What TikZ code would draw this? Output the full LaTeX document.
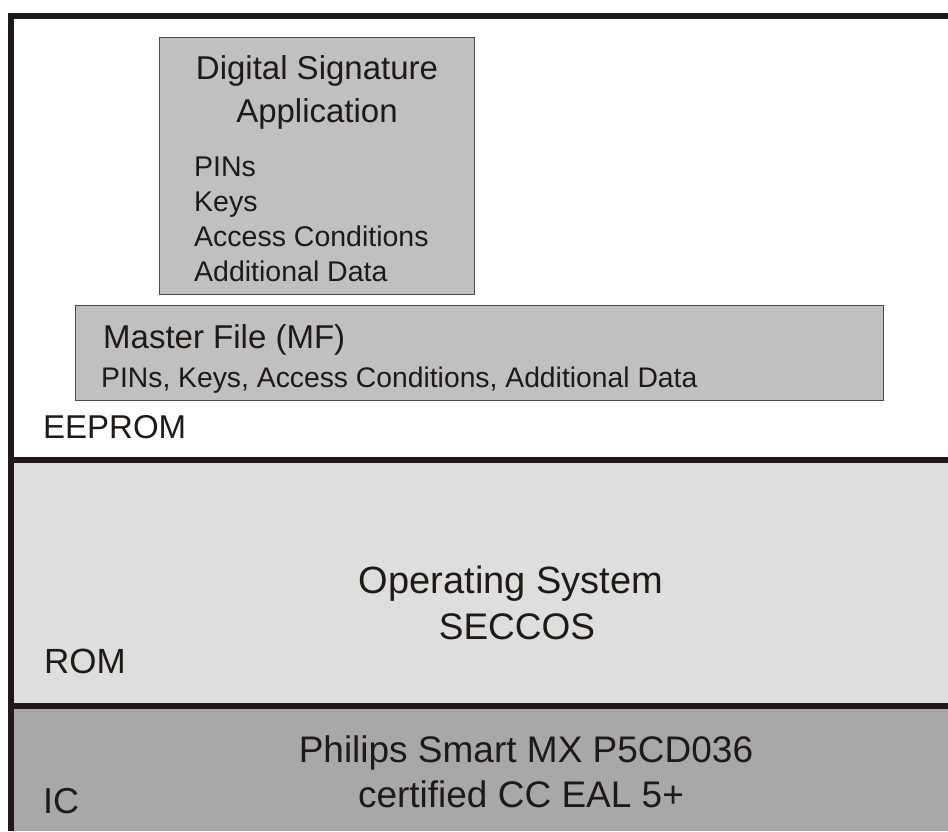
\documentclass[tikz,border=0pt]{standalone}
\usepackage{fontspec}
\setmainfont{Liberation Sans}
\definecolor{framecol}{HTML}{1F1A17}
\definecolor{boxgray}{HTML}{C0C0C0}
\definecolor{boxedge}{HTML}{4A4A4A}
\definecolor{romgray}{HTML}{DEDEDC}
\definecolor{icgray}{HTML}{A8A8A8}
\newcommand{\fsz}[1]{\fontsize{#1}{#1}\selectfont}
\tikzset{
  frameline/.style = {line width=6pt, draw=framecol},
  filebox/.style   = {shape=rectangle, draw=boxedge, line width=1pt,
                      fill=boxgray, inner sep=0pt, anchor=north west},
  txt/.style       = {inner sep=0pt, anchor=base west, text=framecol},
  ctxt/.style      = {inner sep=0pt, anchor=base, text=framecol}
}

\begin{document}
\begin{tikzpicture}[x=1pt,y=-1pt]
  \useasboundingbox (0,0) rectangle (948,831);

  % memory layers
  \fill[romgray] (11,460) rectangle (948,706);
  \fill[icgray]  (11,706) rectangle (948,831);
  \draw[frameline, line join=miter] (11,831) -- (11,16) -- (948,16);
  \draw[frameline] (11,460) -- (948,460);
  \draw[frameline] (11,706) -- (948,706);

  % EEPROM contents
  \node [filebox, minimum width=315pt, minimum height=257pt] (dsa) at (159,37) {};
  \node [ctxt, font=\fsz{33}] (dsatitle) at (317,79) {Digital Signature};
  \node [ctxt, font=\fsz{33}] (dsaapp) at (317,122) {Application};
  \node [txt, font=\fsz{28.5}] (dsapins) at (194,176) {PINs};
  \node [txt, font=\fsz{28.5}] (dsakeys) at (194,211) {Keys};
  \node [txt, font=\fsz{28.5}] (dsaacc) at (194,246) {Access Conditions};
  \node [txt, font=\fsz{28.5}] (dsadata) at (194,281) {Additional Data};

  \node [filebox, minimum width=808pt, minimum height=95pt] (mf) at (75,305) {};
  \node [txt, font=\fsz{33}] (mftitle) at (103,348) {Master File (MF)};
  \node [txt, font=\fsz{28.3}] (mflist) at (101,387)
        {PINs, Keys, Access Conditions, Additional Data};

  \node [txt, font=\fsz{33}] (eeprom) at (43,438) {EEPROM};

  % ROM
  \node [ctxt, font=\fsz{38}] (os) at (511,593) {Operating System};
  \node [ctxt, font=\fsz{37}] (seccos) at (517,639) {SECCOS};
  \node [txt, font=\fsz{35}] (rom) at (44,673) {ROM};

  % IC
  \node [ctxt, font=\fsz{37}] (chip) at (526,762) {Philips Smart MX P5CD036};
  \node [ctxt, font=\fsz{37}] (cert) at (521,807) {certified CC EAL 5+};
  \node [txt, font=\fsz{36}] (ic) at (43,813) {IC};
\end{tikzpicture}
\end{document}
